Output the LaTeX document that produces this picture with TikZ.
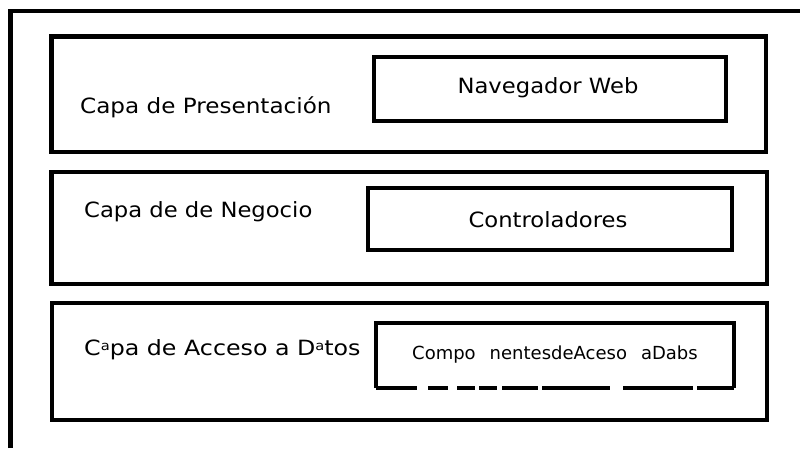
\documentclass[tikz,border=0pt]{standalone}
\usepackage{fontspec}
\setmainfont{DejaVu Sans}
\newcommand{\widetxt}[1]{\scalebox{1.08}[1]{#1}}
\newcommand{\supa}{\raisebox{5pt}{\fontsize{13}{14}\selectfont a}}
\begin{document}
\begin{tikzpicture}[x=1pt,y=-1pt,
  layer/.style={draw=black,line width=4.6pt},
  comp/.style={draw=black,line width=4.3pt,inner sep=0pt},
  lbl/.style={anchor=west,inner sep=0pt,font=\fontsize{21}{24}\selectfont},
  ctxt/.style={inner sep=0pt,font=\fontsize{21}{24}\selectfont}]
\useasboundingbox (0,0) rectangle (800,448);
% outer frame (left and top visible)
\draw[line width=4.2pt] (10.5,448) -- (10.5,11) -- (800,11);
% layer 1
\draw[layer] (51.5,36.5) rectangle (766,152);
\node[comp,minimum width=352pt,minimum height=64pt] (nav) at (550,89) {};
\node[ctxt] (navt) at (548,88) {\widetxt{Navegador Web}};
\node[lbl] (l1) at (80,107) {\scalebox{1.1}[1]{Capa de Presentación}};
% layer 2
\draw[layer] (51.5,172) rectangle (767,284);
\node[comp,minimum width=364pt,minimum height=62pt] (ctl) at (550,219) {};
\node[ctxt] (ctlt) at (548,220) {\widetxt{Controladores}};
\node[lbl] (l2) at (84,212) {\widetxt{Capa de de Negocio}};
% layer 3
\draw[layer] (52,303) rectangle (767,420);
\coordinate (c1) at (376,388);
\coordinate (c2) at (376,323);
\coordinate (c3) at (734,323);
\coordinate (c4) at (734,388);
\draw[line width=4.3pt] (c1) -- (c2) -- (c3) -- (c4);
\foreach \a/\b in {376/417,428/448,457/475,479/497,502/538,542/610,623/693,697/734}
  \draw[line width=4.3pt] (\a,388) -- (\b,388);
\node[ctxt,font=\fontsize{18}{20}\selectfont,anchor=west] (cmp) at (412,355) {Compo\hspace{14pt}nentesdeAceso\hspace{14pt}aDabs};
\node[lbl] (l3) at (84,350) {\scalebox{1.13}[1]{C\supa pa de Acceso a D\supa tos}};
\end{tikzpicture}
\end{document}
